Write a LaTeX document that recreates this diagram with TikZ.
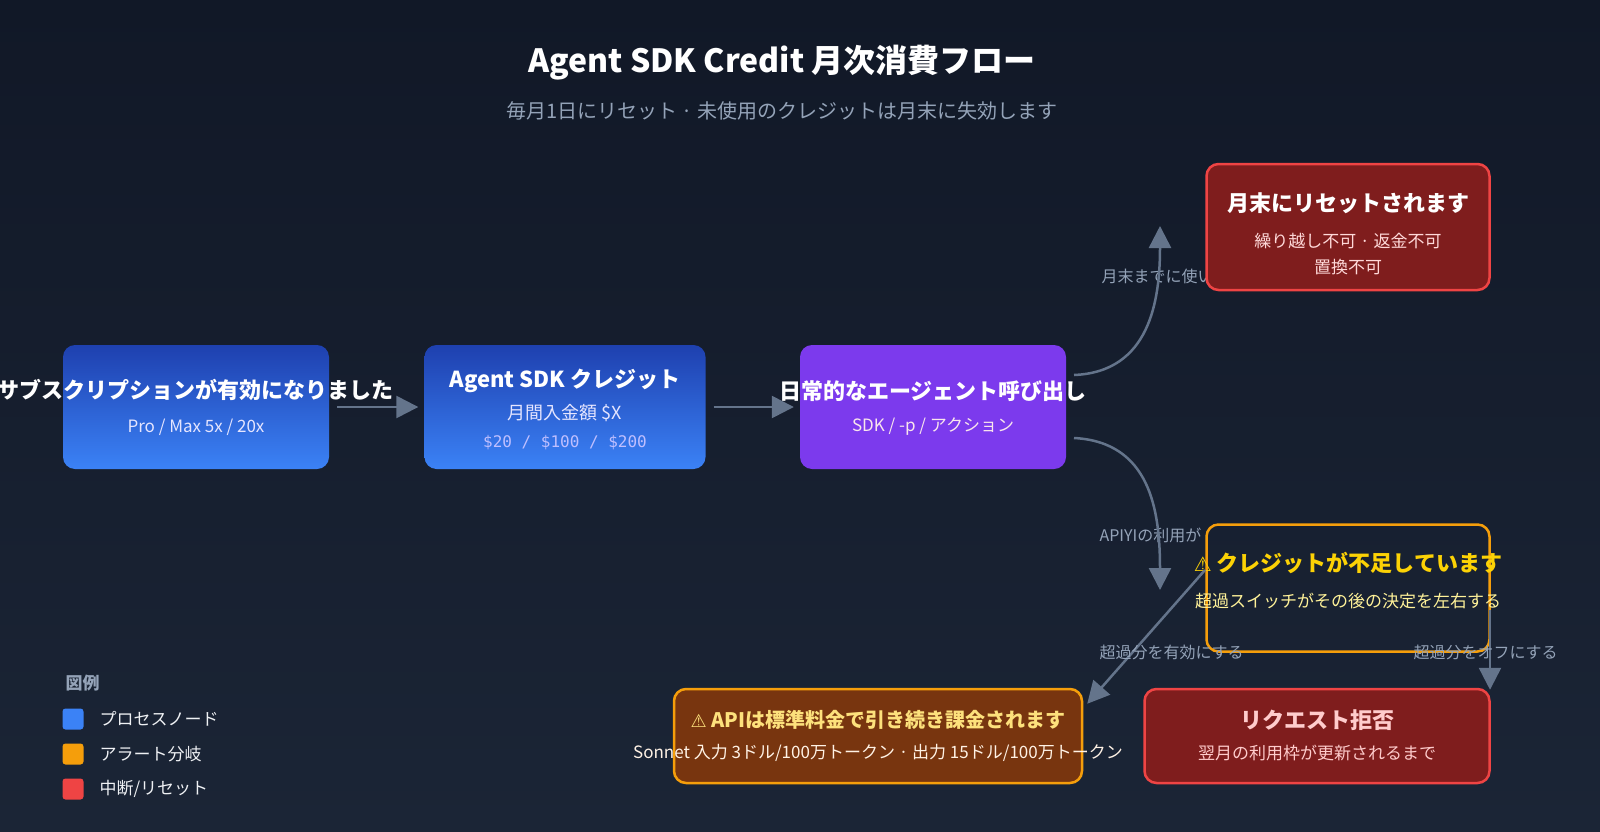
\documentclass[tikz,border=0pt]{standalone}
\usepackage{fontspec}
\setmainfont{Noto Sans CJK JP}
\newfontfamily\symfont{DejaVu Sans}
\setmonofont{DejaVu Sans Mono}
\usetikzlibrary{positioning,arrows.meta}
\definecolor{bgtop}{HTML}{111827}
\definecolor{bgbot}{HTML}{1B2536}
\definecolor{blueA}{HTML}{1E40AF}
\definecolor{blueB}{HTML}{3B82F6}
\definecolor{purp}{HTML}{7C3AED}
\definecolor{redfill}{HTML}{7F1D1D}
\definecolor{redline}{HTML}{EF4444}
\definecolor{ambfill}{HTML}{78350F}
\definecolor{ambline}{HTML}{F59E0B}
\definecolor{edgec}{HTML}{64748B}
\definecolor{labc}{HTML}{94A3B8}
\newcommand{\fs}[1]{\fontsize{#1}{#1}\selectfont}
\tikzset{
  box/.style={rectangle, rounded corners=12pt, inner sep=0pt},
  proc/.style={box, top color=blueA, bottom color=blueB, draw=none},
  redbox/.style={box, fill=redfill, draw=redline, line width=2.5pt},
  ambbox/.style={box, fill=ambfill, draw=ambline, line width=2.5pt},
  head/.style={text=white, font=\bfseries\fs{22}, inner sep=0pt},
  desc/.style={font=\fs{17}, inner sep=0pt},
  flow/.style={draw=edgec, line width=2.5pt, -{Triangle[length=22pt,width=22pt]}},
  elab/.style={text=labc, font=\fs{16}, anchor=west},
  leg/.style={rectangle, rounded corners=3pt, minimum size=21pt, inner sep=0pt},
  legt/.style={text=white!85!labc, font=\fs{17}, anchor=west},
}
\begin{document}
\begin{tikzpicture}[x=1pt, y=-1pt]
  \useasboundingbox (0,0) rectangle (1600,832);
  \shade[top color=bgtop, bottom color=bgbot] (0,0) rectangle (1600,832);

  % title
  \node[text=white, font=\bfseries\fs{32}] (title) at (782,63) {Agent SDK Credit 月次消費フロー};
  \node[text=labc, font=\fs{20}] (subtitle) at (782,111) {毎月1日にリセット · 未使用のクレジットは月末に失効します};

  % edge labels (behind boxes)
  \node[elab] (lused) at (1098,276) {月末までに使い};
  \node[elab] (lapi) at (1096,535) {APIYIの利用が};

  % main row
  \node[proc, minimum width=266pt, minimum height=124pt] (sub) at (196,407) {};
  \node[head] (subt) at (196,390) {サブスクリプションが有効になりました};
  \node[desc, text=blue!10] (subs) at (196,427) {Pro / Max 5x / 20x};
  \node[proc, minimum width=281pt, minimum height=124pt] (credit) at (565,407) {};
  \node[head] (creditt) at (565,381) {Agent SDK クレジット};
  \node[desc, text=blue!10, font=\fs{18}] (credits) at (565,413) {月間入金額 \$X};
  \node[desc, text=blue!25, font=\ttfamily\fs{16}] (creditm) at (565,443) {\$20 / \$100 / \$200};
  \node[box, fill=purp, minimum width=266pt, minimum height=124pt] (daily) at (933,407) {};
  \node[head] (dailyt) at (933,391) {日常的なエージェント呼び出し};
  \node[desc, text=purple!10] (dailys) at (933,427) {SDK / -p / アクション};

  % outcomes
  \node[redbox, minimum width=283pt, minimum height=126pt] (reset) at (1348,227) {};
  \node[head] (resett) at (1348,203) {月末にリセットされます};
  \node[desc, text=red!15] (resets) at (1348,241) {繰り越し不可 · 返金不可};
  \node[desc, text=red!15] (resets2) at (1348,267) {置換不可};
  \node[box, draw=ambline, line width=2.5pt, minimum width=283pt, minimum height=127pt] (warn) at (1348,588) {};
  \node[head, text=yellow!70!orange] (warnt) at (1348,563) {{\symfont\fs{20}⚠} クレジットが不足しています};
  \node[desc, text=orange!25!yellow!40] (warns) at (1348,601) {超過スイッチがその後の決定を左右する};
  \node[ambbox, minimum width=408pt, minimum height=94pt] (api) at (878,736) {};
  \node[head, text=yellow!60!orange!50, font=\bfseries\fs{20}] (apit) at (878,720) {{\symfont\fs{18}⚠} APIは標準料金で引き続き課金されます};
  \node[desc, text=orange!10] (apis) at (878,753) {Sonnet 入力 3ドル/100万トークン · 出力 15ドル/100万トークン};
  \node[redbox, minimum width=345pt, minimum height=94pt] (reject) at (1317,736) {};
  \node[head, text=red!20] (rejectt) at (1317,720) {リクエスト拒否};
  \node[desc, text=red!20] (rejects) at (1317,753) {翌月の利用枠が更新されるまで};

  % connectors
  \draw[flow] ([xshift=8pt]sub.east) -- ([xshift=-6pt]credit.west);
  \draw[flow] ([xshift=8pt]credit.east) -- ([xshift=-6pt]daily.west);
  \coordinate (upsrc) at (1074,375);
  \coordinate (dnsrc) at (1074,438);
  \coordinate (upend) at (1160,226);
  \coordinate (dnend) at (1160,590);
  \coordinate (onsrc) at (1205,570);
  \coordinate (offsrc) at (1490,610);
  \draw[flow] (upsrc) .. controls (1150,372) and (1160,300) .. (upend);
  \draw[flow] (dnsrc) .. controls (1150,442) and (1160,510) .. (dnend);
  \draw[flow] (onsrc) -- ([xshift=4pt,yshift=-16pt]api.north east);
  \draw[flow] (offsrc) -- ([xshift=173pt,yshift=-2pt]reject.north);
  \node[elab] (lon) at (1096,652) {超過分を有効にする};
  \node[elab] (loff) at (1410,652) {超過分をオフにする};

  % legend
  \node[text=labc, font=\bfseries\fs{17}, anchor=west] (legtitle) at (62,683) {図例};
  \node[leg, fill=blueB] (lg1) at (73,719) {};
  \node[legt] at (96,719) {プロセスノード};
  \node[leg, fill=ambline] (lg2) at (73,754) {};
  \node[legt] at (96,754) {アラート分岐};
  \node[leg, fill=redline] (lg3) at (73,789) {};
  \node[legt] at (96,789) {中断/リセット};
\end{tikzpicture}
\end{document}
